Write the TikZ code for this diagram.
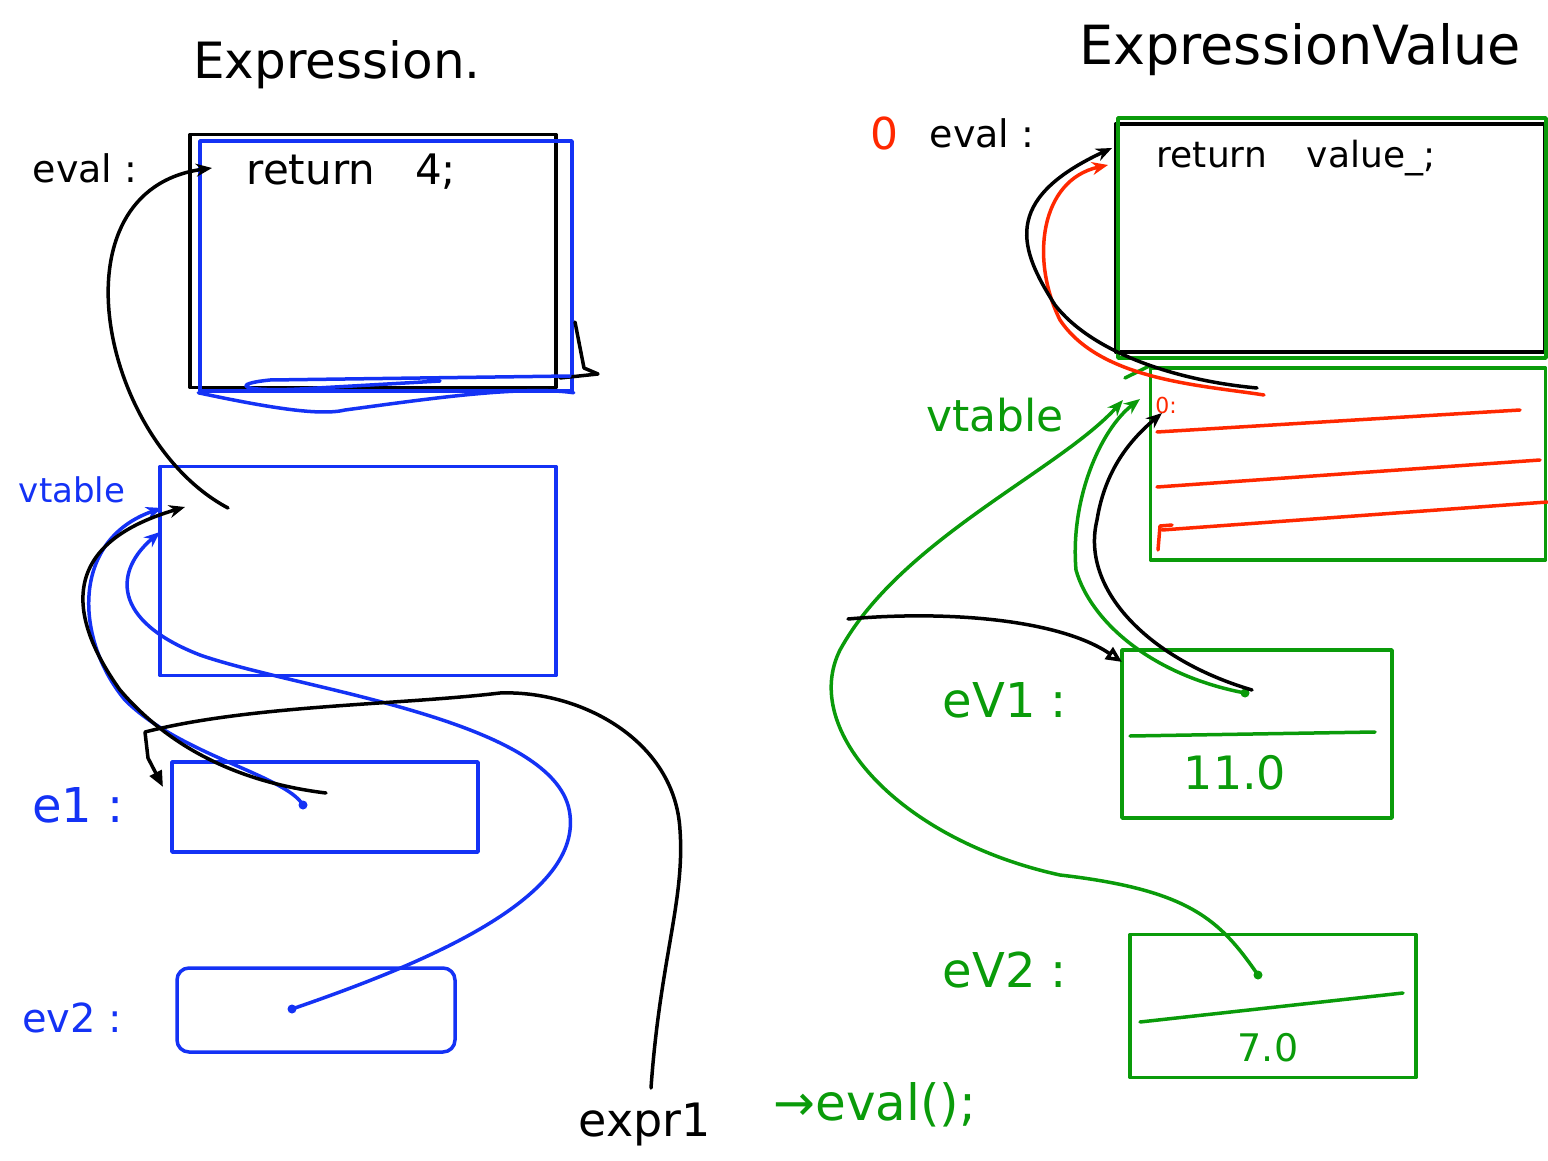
\documentclass[tikz,border=0pt]{standalone}
\usepackage{fontspec}
\setmainfont{DejaVu Sans}
\usetikzlibrary{arrows.meta}
\definecolor{hblue}{RGB}{20,50,245}
\definecolor{hgreen}{RGB}{10,155,10}
\definecolor{hred}{RGB}{255,40,0}
\begin{document}
\begin{tikzpicture}[x=1pt,y=-1pt, line width=3.5pt, line cap=round, line join=round,
  box/.style={draw, rectangle, inner sep=0pt, anchor=center},
  lbl/.style={inner sep=0pt, anchor=center},
  fs/.style={font=\fontsize{#1}{#1}\selectfont},
  arr/.style={-{Stealth[length=16pt,width=13pt]}},
  dot/.style={circle, fill, inner sep=0pt, minimum size=9pt}
]
\useasboundingbox[fill=white] (0,0) rectangle (1548,1161);

% ---------------- left: Expression ----------------
\node[lbl, fs=50] (titleL) at (337,65) {Expression.};
\node[lbl, fs=38] (evalL) at (85,168) {eval :};
\node[box, minimum width=366pt, minimum height=253pt] (codeL) at (373,261) {};
\node[box, hblue, minimum width=372pt, minimum height=250pt] (codeLb) at (386,266) {};
\node[lbl, fs=42, anchor=west] (retL) at (245,172) {return\hspace{40pt}4;};
\draw (575,322) -- (584,368) -- (598,374) -- (560,378);
\draw[hblue] (codeLb.south west) .. controls (270,408) and (320,416) .. (345,410) .. controls (420,400) and (520,385) .. (codeLb.south east);
\draw[hblue] (570,376) -- (270,380) .. controls (230,384) and (240,392) .. (300,389) -- (440,381);

\node[lbl, fs=34, text=hblue] (vtlblL) at (72,490) {vtable};
\node[box, hblue, minimum width=396pt, minimum height=209pt] (vtL) at (358,571) {};

\node[lbl, fs=48, text=hblue] (e1lbl) at (78,805) {e1 :};
\node[box, hblue, minimum width=306pt, minimum height=90pt] (e1box) at (325,807) {};

\node[lbl, fs=40, text=hblue] (ev2lbl) at (72,1018) {ev2 :};
\node[box, hblue, rounded corners=12pt, minimum width=278pt, minimum height=84pt] (ev2box) at (316,1010) {};

\node[lbl, fs=46] (expr1) at (645,1125) {expr1};
\node[lbl, fs=50, text=hgreen] (callv) at (875,1105) {→eval();};

% connectors (left)
\coordinate (vtLslot) at (228,508);
\coordinate (codeLin) at (212,168);
\draw[arr] (vtLslot) .. controls (100,440) and (50,190) .. (codeLin);

\coordinate (e1ptr) at (303,805);
\coordinate (vtLin1) at (162,508);
\coordinate (vtLin2) at (185,507);
\node[dot, hblue] (e1dot) at (e1ptr) {};
\draw[hblue, arr] (e1dot.center) .. controls (285,775) and (180,755) .. (125,700) .. controls (75,640) and (70,540) .. (vtLin1);
\coordinate (e1ptrb) at (326,793);
\draw[arr] (e1ptrb) .. controls (260,785) and (180,760) .. (120,690) .. controls (70,620) and (55,545) .. (vtLin2);

\coordinate (ev2ptr) at (292,1009);
\coordinate (vtLin3) at (160,532);
\node[dot, hblue] (ev2dot) at (ev2ptr) {};
\draw[hblue, arr] (ev2dot.center) .. controls (420,965) and (580,900) .. (570,815) .. controls (560,720) and (300,690) .. (200,655) .. controls (110,620) and (115,570) .. (vtLin3);

\coordinate (expr1top) at (651,1088);
\coordinate (e1in) at (163,787);
\draw[-{Triangle[length=16pt,width=13pt]}] (expr1top) .. controls (660,960) and (685,900) .. (680,830) .. controls (675,740) and (580,690) .. (500,693) .. controls (400,705) and (250,705) .. (145,732) -- (148,758) -- (e1in);

% ---------------- right: ExpressionValue ----------------
\node[lbl, fs=54] (titleR) at (1300,50) {ExpressionValue};
\node[lbl, fs=44, text=hred] (zeroR) at (884,133) {0};
\node[lbl, fs=38] (evalR) at (982,133) {eval :};
\node[box, minimum width=429pt, minimum height=228pt] (codeR) at (1330,238) {};
\node[box, hgreen, minimum width=428pt, minimum height=240pt] (codeRg) at (1332,238) {};
\node[lbl, fs=36, anchor=west] (retR) at (1155,158) {return\hspace{40pt}value\_;};

\node[lbl, fs=44, text=hgreen] (vtlblR) at (995,415) {vtable};
\node[box, hgreen, minimum width=395pt, minimum height=192pt] (vtR) at (1348,464) {};
\draw[hgreen] (vtR.north west) -- (1125,378);
\draw[hred] (1157,432) -- (1520,410);
\draw[hred] (1157,487) -- (1540,460);
\draw[hred] (1162,530) -- (vtR.east |- 0,502);
\draw[hred] (1172,525) -- (1160,526) -- (1158,550);
\node[lbl, fs=22, text=hred] (slot0) at (1166,405) {0:};

\node[lbl, fs=48, text=hgreen] (eV1lbl) at (1005,700) {eV1 :};
\node[box, hgreen, minimum width=270pt, minimum height=168pt] (eV1box) at (1257,734) {};
\draw[hgreen] (1130,736) -- (1375,732);
\node[lbl, fs=46, text=hgreen] (v11) at (1235,773) {11.0};

\node[lbl, fs=48, text=hgreen] (eV2lbl) at (1005,970) {eV2 :};
\node[box, hgreen, minimum width=286pt, minimum height=143pt] (eV2box) at (1273,1006) {};
\draw[hgreen] (1140,1022) -- (1403,993);
\node[lbl, fs=38, text=hgreen] (v7) at (1268,1048) {7.0};

% connectors (right)
\coordinate (slotR) at (1264,395);
\coordinate (codeRin1) at (1108,165);
\draw[hred, arr] (slotR) .. controls (1200,385) and (1100,380) .. (1060,320) .. controls (1030,260) and (1040,180) .. (codeRin1);
\coordinate (slotRb) at (1257,388);
\coordinate (codeRin2) at (1112,148);
\draw[arr] (slotRb) .. controls (1170,380) and (1090,350) .. (1055,305) .. controls (1020,250) and (1000,200) .. (codeRin2);

\coordinate (eV2ptr) at (1258,975);
\coordinate (vtRin1) at (1123,400);
\node[dot, hgreen] (eV2dot) at (eV2ptr) {};
\draw[hgreen, arr] (eV2dot.center) .. controls (1220,920) and (1190,890) .. (1060,875) .. controls (900,840) and (800,730) .. (840,650) .. controls (900,540) and (1060,470) .. (vtRin1);

\coordinate (eV1ptr) at (1245,693);
\coordinate (vtRin2) at (1140,399);
\node[dot, hgreen] (eV1dot) at (eV1ptr) {};
\draw[hgreen, arr] (eV1dot.center) .. controls (1150,675) and (1090,620) .. (1076,570) .. controls (1070,500) and (1100,430) .. (vtRin2);

\coordinate (eV1ptrb) at (1252,690);
\coordinate (slot0in) at (1162,413);
\draw[arr] (eV1ptrb) .. controls (1150,660) and (1080,590) .. (1097,520) .. controls (1105,470) and (1130,440) .. (slot0in);

\coordinate (leftfree) at (848,619);
\coordinate (eV1in) at (1122,662);
\draw[-{Triangle[open, length=16pt,width=14pt]}] (leftfree) .. controls (950,610) and (1060,620) .. (eV1in);
\end{tikzpicture}
\end{document}
